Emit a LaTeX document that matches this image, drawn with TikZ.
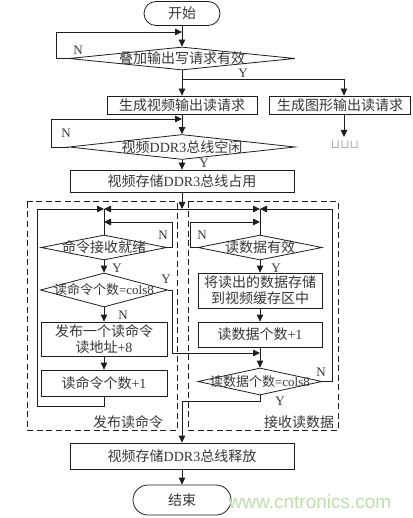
\documentclass[tikz,border=0pt]{standalone}
\usepackage{fontspec}
\setmainfont{Liberation Serif}
\newfontfamily\cjk{Noto Sans CJK SC}
\newfontfamily\dejavu{DejaVu Sans}
\newfontfamily\wmfont{Liberation Sans}
\usetikzlibrary{arrows.meta,shapes.geometric}
\definecolor{ink}{RGB}{30,30,30}
\definecolor{txtc}{RGB}{55,55,55}
\definecolor{wm}{RGB}{192,222,172}
\newcommand\zh[1]{{\cjk #1}}
\newcommand\fmain{\fontsize{14}{16}\selectfont}
\newcommand\fsmall{\fontsize{13}{15}\selectfont}
\newcommand\flab{\fontsize{13}{15}\selectfont}
\begin{document}
\begin{tikzpicture}[x=1pt,y=-1pt,
  ln/.style={draw=ink, line width=0.8pt},
  arr/.style={ln, -{Triangle[length=7pt,width=6.5pt]}},
  box/.style={draw=ink, line width=0.8pt, rectangle, inner sep=0pt, align=center, font=\fmain, text=txtc},
  term/.style={box},
  dec/.style={draw=ink, line width=0.8pt, diamond, inner sep=0pt},
  dtext/.style={inner sep=0pt, font=\fmain, text=txtc},
  lab/.style={inner sep=0pt, font=\flab, text=txtc},
  dashbox/.style={draw=ink, line width=1pt, dash pattern=on 6pt off 3.5pt},
]
\useasboundingbox (0,0) rectangle (412,518);
\fill[white] (0,0) rectangle (412,518);

% top part
\node[term, minimum width=76pt, minimum height=24pt, rounded corners=12pt] (st) at (182,13.5) {\zh{开始}};
\node[dec, minimum width=226pt, minimum height=23pt] (d1) at (182,58.5) {};
\node[dtext] (d1t) at (d1) {\zh{叠加输出写请求有效}};
\coordinate (j1) at (182,32);
\draw[arr] (st.south) -- (d1.north);
\draw[arr] (d1.west) -- ++(-12,0) |- (j1);
\node[lab] (n1) at (78,50) {N};
\node[lab] (y1) at (243,73) {Y};
\coordinate (s1) at (182,79);
\draw[ln] (d1.south) -- (s1);
\node[box, minimum width=150pt, minimum height=18pt] (b1) at (182,105) {\zh{生成视频输出读请求}};
\node[box, minimum width=141pt, minimum height=18pt] (b2) at (340,105) {\zh{生成图形输出读请求}};
\draw[arr] (s1) -- (b1.north);
\draw[arr] (s1) -| ([xshift=4pt]b2.north);
\node[inner sep=0pt, font=\dejavu\fontsize{12}{13}\selectfont, text=gray!65] (dots) at (345,145) {⊔⊔⊔};
\coordinate (e1) at (344,137);
\draw[arr] ([xshift=4pt]b2.south) -- (e1);

\node[dec, minimum width=226pt, minimum height=25pt] (d2) at (182,147) {};
\node[dtext] (d2t) at (d2) {\zh{视频}DDR3\zh{总线空闲}};
\draw[arr] (b1.south) -- (d2.north);
\coordinate (j2) at (182,119);
\draw[arr] (d2.west) -- ++(-17,0) |- (j2);
\node[lab] (n2) at (66,133) {N};
\node[lab] (y2) at (204,163) {Y};
\node[box, minimum width=224pt, minimum height=22pt] (b3) at (182,181) {\zh{视频存储}DDR3\zh{总线占用}};
\draw[arr] (d2.south) -- (b3.north);

% dashed groups
\draw[dashbox] (27,202) rectangle (177,430);
\draw[dashbox] (188,202) rectangle (338,430);
\node[dtext] (gl) at (128,422) {\zh{发布读命令}};
\node[dtext] (gr) at (299,422) {\zh{接收读数据}};

\coordinate (j3) at (182,209);
\coordinate (L0) at (104,209);
\coordinate (R0) at (260,209);
\draw[arr] (b3.south) -- (j3);
\draw[arr] (j3) -- (L0);
\draw[arr] (j3) -- (R0);

% left column
\node[dec, minimum width=126pt, minimum height=25pt] (c1) at (104,247.5) {};
\node[dtext] (c1t) at (c1) {\zh{命令接收就绪}};
\draw[ln] (L0) -- (c1.north);
\coordinate (L1) at (104,222);
\draw[arr] (c1.east) -- ++(5,0) |- (L1);
\node[lab] (n3) at (163,235) {N};
\node[lab] (y3) at (117,268) {Y};
\node[dec, minimum width=127pt, minimum height=34pt] (c2) at (104,290) {};
\node[dtext, font=\fsmall] (c2t) at (c2) {\zh{读命令个数}=cols8};
\draw[arr] (c1.south) -- (c2.north);
\coordinate (R3) at (260,353);
\draw[arr] (c2.east) -- ++(4.5,0) |- (R3);
\node[lab] (y4) at (166,279) {Y};
\node[lab] (n4) at (123,315) {N};
\node[box, minimum width=126pt, minimum height=34pt] (c3) at (104,339) {\zh{发布一个读命令}\\\zh{读地址}+8};
\draw[arr] (c2.south) -- (c3.north);
\node[box, minimum width=126pt, minimum height=26pt] (c4) at (104,383) {\zh{读命令个数}+1};
\draw[arr] (c3.south) -- (c4.north);
\draw[arr] (c4.south) -- ++(0,10) -- ++(-67,0) |- (L0);

% right column
\node[dec, minimum width=124pt, minimum height=25pt] (r1) at (260,247.5) {};
\node[dtext] (r1t) at (r1) {\zh{读数据有效}};
\draw[ln] (R0) -- (r1.north);
\coordinate (R1) at (260,222);
\draw[arr] (r1.west) -- ++(-7,0) |- (R1);
\node[lab] (n5) at (202,235) {N};
\node[lab] (y5) at (276,268) {Y};
\node[box, minimum width=124pt, minimum height=35pt] (r2) at (260,290.5) {\zh{将读出的数据存储}\\\zh{到视频缓存区中}};
\draw[arr] (r1.south) -- (r2.north);
\node[box, minimum width=124pt, minimum height=25pt] (r3) at (260,334.5) {\zh{读数据个数}+1};
\draw[arr] (r2.south) -- (r3.north);
\node[dec, minimum width=124pt, minimum height=27pt] (r4) at (260,381.5) {};
\node[dtext, font=\fsmall] (r4t) at (r4) {\zh{读数据个数}=cols8};
\draw[ln] (r3.south) -- (R3);
\draw[arr] (R3) -- (r4.north);
\draw[arr] (r4.east) -- ++(10,0) |- (R0);
\node[lab] (n6) at (321,372) {N};
\node[lab] (y6) at (280,401) {Y};

% bottom
\node[box, minimum width=224pt, minimum height=26pt] (b4) at (182,456) {\zh{视频存储}DDR3\zh{总线释放}};
\draw[arr] (r4.south) -- ++(0,6) -| (b4.north);
\node[term, minimum width=98pt, minimum height=30pt, rounded corners=15pt] (en) at (182,500) {\zh{结束}};
\draw[arr] (b4.south) -- (en.north);

\node[inner sep=0pt, font=\wmfont\fontsize{19}{21}\selectfont, text=wm] (wmk) at (310,502) {www.cntronics.com};
\end{tikzpicture}
\end{document}
